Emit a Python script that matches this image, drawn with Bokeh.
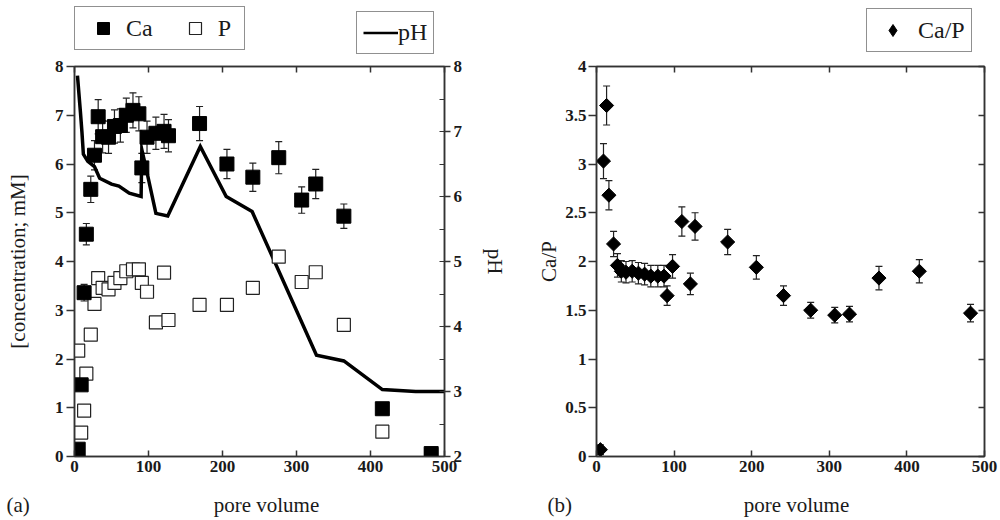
from bokeh.plotting import figure
from bokeh.models import (ColumnDataSource, Range1d, LinearAxis, SingleIntervalTicker,
                          Whisker, TeeHead, Legend, LegendItem, Label, CustomJSTickFormatter)
from bokeh.layouts import row, column
from bokeh.embed import file_html
from bokeh.resources import INLINE
import math

# ---------------- data ----------------
pore_volume = [5, 9, 13, 16, 22, 27, 32, 38, 46, 54, 62, 70, 79, 87, 91, 98, 110, 121, 127,
               169, 206, 241, 276, 307, 326, 364, 416, 482]
ca = [0.15, 1.47, 3.36, 4.56, 5.48, 6.18, 6.97, 6.56, 6.55, 6.77, 6.79, 7.00, 7.10, 7.03, 5.92,
      6.55, 6.63, 6.67, 6.58, 6.83, 6.00, 5.73, 6.13, 5.26, 5.59, 4.93, 0.98, 0.06]
ca_err = [0.02, 0.07, 0.17, 0.22, 0.27, 0.30, 0.35, 0.33, 0.33, 0.34, 0.34, 0.35, 0.36, 0.35, 0.30,
          0.33, 0.33, 0.35, 0.33, 0.35, 0.30, 0.29, 0.33, 0.27, 0.30, 0.25, 0.05, 0.01]
p_conc = [2.17, 0.49, 0.94, 1.70, 2.50, 3.13, 3.66, 3.46, 3.43, 3.56, 3.66, 3.80, 3.84, 3.84, 3.56,
          3.38, 2.75, 3.77, 2.80, 3.11, 3.11, 3.46, 4.10, 3.58, 3.78, 2.70, 0.51, 0.04]
ca_p = [0.07, 3.03, 3.60, 2.68, 2.18, 1.96, 1.90, 1.89, 1.90, 1.88, 1.87, 1.85, 1.85, 1.85, 1.65,
        1.95, 2.41, 1.77, 2.36, 2.20, 1.94, 1.65, 1.50, 1.45, 1.46, 1.83, 1.90, 1.47]
ca_p_err = [0.05, 0.18, 0.20, 0.15, 0.13, 0.12, 0.11, 0.11, 0.11, 0.11, 0.11, 0.11, 0.11, 0.11, 0.10,
            0.12, 0.15, 0.11, 0.14, 0.13, 0.12, 0.10, 0.08, 0.08, 0.08, 0.12, 0.12, 0.09]
ph_pore_volume = [4, 8, 10, 12, 18, 27, 34, 50, 60, 74, 90, 91, 97, 110, 126, 170, 205, 240,
                  327, 364, 416, 461, 500]
ph = [7.86, 7.30, 7.00, 6.65, 6.54, 6.46, 6.28, 6.19, 6.16, 6.05, 6.00, 6.72, 6.42, 5.74, 5.70,
      6.77, 6.00, 5.77, 3.56, 3.47, 3.03, 3.00, 3.00]

FONT = "Liberation Serif"
AX = "#333333"
TXT = "#1a1a1a"

src = ColumnDataSource(dict(
    x=pore_volume, ca=ca, p=p_conc, r=ca_p,
    ca_lo=[v - e for v, e in zip(ca, ca_err)], ca_hi=[v + e for v, e in zip(ca, ca_err)],
    r_lo=[v - e for v, e in zip(ca_p, ca_p_err)], r_hi=[v + e for v, e in zip(ca_p, ca_p_err)],
))
ph_src = ColumnDataSource(dict(x=ph_pore_volume, ph=ph))


def blank():
    return CustomJSTickFormatter(code="return ''")


def style_axis(ax, tick_in, tick_out, minor_in=0, minor_out=0):
    ax.axis_line_color = AX
    ax.axis_line_width = 1.5
    ax.major_tick_line_color = AX
    ax.major_tick_line_width = 1.5
    ax.minor_tick_line_color = AX
    ax.minor_tick_line_width = 1.2
    ax.major_tick_in = tick_in
    ax.major_tick_out = tick_out
    ax.minor_tick_in = minor_in
    ax.minor_tick_out = minor_out
    ax.major_label_text_font = FONT
    ax.major_label_text_font_style = "bold"
    ax.major_label_text_font_size = "17px"
    ax.major_label_text_color = TXT
    ax.axis_label_text_font = FONT
    ax.axis_label_text_font_style = "normal"
    ax.axis_label_text_font_size = "21px"
    ax.axis_label_text_color = TXT


def bare(fig):
    fig.xgrid.visible = False
    fig.ygrid.visible = False
    fig.outline_line_color = None
    fig.border_fill_color = "white"


def whisker(lo, hi):
    head = dict(size=7, line_color="#222222", line_width=1.2)
    return Whisker(source=src, base="x", lower=lo, upper=hi, dimension="height",
                   line_color="#222222", line_width=1.2,
                   lower_head=TeeHead(**head), upper_head=TeeHead(**head), level="underlay")


# ---------------- (a) ----------------
p1 = figure(width=534, height=424, x_range=Range1d(0, 500), y_range=Range1d(0, 8),
            output_backend="svg", toolbar_location=None, title=None,
            min_border_left=74, min_border_right=90, min_border_top=8, min_border_bottom=26)
p1.extra_y_ranges = {"ph": Range1d(2, 8)}
bare(p1)
p1.outline_line_color = AX
p1.outline_line_width = 1.5

xa = p1.xaxis[0]
xa.ticker = SingleIntervalTicker(interval=100, num_minor_ticks=0)
style_axis(xa, 6, 0)
xa.major_label_standoff = 4

ya = p1.yaxis[0]
ya.ticker = SingleIntervalTicker(interval=1, num_minor_ticks=0)
ya.axis_label = "[concentration; mM]"
style_axis(ya, 0, 8)
ya.major_label_standoff = 3
ya.axis_label_standoff = 22

ph_axis = LinearAxis(y_range_name="ph", ticker=SingleIntervalTicker(interval=1, num_minor_ticks=2),
                     axis_label="pH")
style_axis(ph_axis, 0, 6, minor_in=5)
ph_axis.major_label_standoff = 3
ph_axis.axis_label_standoff = 18
p1.add_layout(ph_axis, "right")

top1 = LinearAxis(ticker=SingleIntervalTicker(interval=100, num_minor_ticks=0), formatter=blank())
style_axis(top1, 6, 0)
top1.major_label_standoff = 0
p1.add_layout(top1, "above")

p1.line("x", "ph", source=ph_src, y_range_name="ph", line_color="black", line_width=3.5,
        line_join="miter")
p1.add_layout(whisker("ca_lo", "ca_hi"))
p1.scatter("x", "p", source=src, marker="square", size=13, fill_color="white",
           line_color="#222222", line_width=1.2)
p1.scatter("x", "ca", source=src, marker="square", size=14, fill_color="black", line_color="black")

# ---------------- (b) ----------------
p2 = figure(width=466, height=424, x_range=Range1d(0, 500), y_range=Range1d(0, 4),
            output_backend="svg", toolbar_location=None, title=None,
            min_border_left=60, min_border_right=16, min_border_top=8, min_border_bottom=26)
bare(p2)
p2.outline_line_color = AX
p2.outline_line_width = 1.5

xb = p2.xaxis[0]
xb.ticker = SingleIntervalTicker(interval=100, num_minor_ticks=0)
style_axis(xb, 6, 0)
xb.major_label_standoff = 4

yb = p2.yaxis[0]
yb.ticker = SingleIntervalTicker(interval=0.5, num_minor_ticks=0)
yb.axis_label = "Ca/P"
style_axis(yb, 0, 8)
yb.major_label_standoff = 2
yb.axis_label_standoff = 1

right2 = LinearAxis(ticker=SingleIntervalTicker(interval=0.5, num_minor_ticks=0), formatter=blank())
style_axis(right2, 6, 0)
right2.major_label_standoff = 0
p2.add_layout(right2, "right")
top2 = LinearAxis(ticker=SingleIntervalTicker(interval=100, num_minor_ticks=0), formatter=blank())
style_axis(top2, 6, 0)
top2.major_label_standoff = 0
p2.add_layout(top2, "above")

p2.add_layout(whisker("r_lo", "r_hi"))
p2.scatter("x", "r", source=src, marker="square", angle=math.pi / 4, size=10,
           fill_color="black", line_color="black")

# ---------------- header strip with the legend boxes ----------------
# The legend keys reuse the real sources; the header's y-range lies far above all values,
# so only the legend samples are visible in this strip.
header = figure(width=1000, height=58, x_range=Range1d(0, 1000), y_range=Range1d(1000, 1058),
                output_backend="svg", toolbar_location=None, title=None,
                x_axis_type=None, y_axis_type=None, min_border=0)
bare(header)
k_ca = header.scatter("x", "ca", source=src, marker="square", fill_color="black", line_color="black")
k_p = header.scatter("x", "p", source=src, marker="square", fill_color="white",
                     line_color="#222222", line_width=1.2)
k_ph = header.line("x", "ph", source=ph_src, line_color="black", line_width=2.5)
k_r = header.scatter("x", "r", source=src, marker="diamond", fill_color="black", line_color="black")


def legend(items, loc, padding, spacing, standoff, gw, gh):
    return Legend(items=items, orientation="horizontal", location=loc, margin=0, padding=padding,
                  spacing=spacing, label_standoff=standoff, glyph_width=gw, glyph_height=gh,
                  label_text_font=FONT, label_text_font_size="24px", label_text_baseline="middle",
                  label_text_color=TXT, border_line_color="#222222", border_line_width=1.3,
                  background_fill_alpha=1)


header.add_layout(legend([LegendItem(label="Ca", renderers=[k_ca]), LegendItem(label="P", renderers=[k_p])],
                         (74, 8), 6, 20, 1, 44, 30))
header.add_layout(legend([LegendItem(label="pH", renderers=[k_ph])], (356, 4), 6, 0, 0, 35, 29))
header.add_layout(legend([LegendItem(label="Ca/P", renderers=[k_r])], (866, 6), 6, 0, 6, 39, 30))

# ---------------- footer strip with panel tags and x-axis titles ----------------
footer = figure(width=1000, height=36, x_range=Range1d(0, 1000), y_range=Range1d(0, 36),
                output_backend="svg", toolbar_location=None, title=None,
                x_axis_type=None, y_axis_type=None, min_border=0)
bare(footer)
tags = ["(a)", "pore volume", "(b)", "pore volume"]
tag_x = [6, 266, 547, 796]
tag_align = ["left", "center", "left", "center"]
for t, tx, al in zip(tags, tag_x, tag_align):
    footer.add_layout(Label(x=tx, y=14, text=t, text_font=FONT, text_font_size="21px",
                            text_align=al, text_baseline="middle", text_color=TXT))

layout = column(header, row(p1, p2), footer)
open("out.html", "w").write(file_html(layout, INLINE))
